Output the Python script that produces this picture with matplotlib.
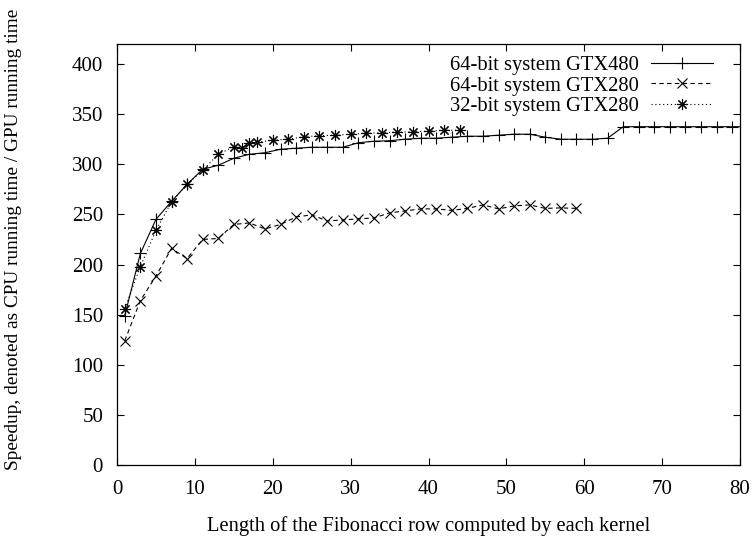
import matplotlib
matplotlib.use("Agg")
import matplotlib.pyplot as plt

# Speedup measurements per kernel row length
x_gtx480_64 = [1, 3, 5, 7, 9, 11, 13, 15, 17, 19, 21, 23, 25, 27, 29, 31, 33, 35, 37, 39,
               41, 43, 45, 47, 49, 51, 53, 55, 57, 59, 61, 63, 65, 67, 69, 71, 73, 75, 77, 79, 81]
y_gtx480_64 = [149, 211, 245, 263, 280, 295, 299, 306, 310, 311.5, 315, 316, 317, 317, 317,
               321.5, 323, 323.5, 325, 326, 326, 327, 328, 328, 329, 330, 330, 327, 325, 325,
               325, 326, 337.5, 337.5, 337.5, 337.5, 337.5, 337.5, 337.5, 337.5, 337.5]

x_gtx280_64 = [1, 3, 5, 7, 9, 11, 13, 15, 17, 19, 21, 23, 25, 27, 29, 31, 33, 35, 37, 39,
               41, 43, 45, 47, 49, 51, 53, 55, 57, 59]
y_gtx280_64 = [124, 164, 188.5, 216, 206, 225, 226, 240, 241.5, 235.5, 240, 247.5, 249.5,
               243.5, 244.5, 245.5, 246.5, 251.5, 253.5, 255.5, 255.5, 254, 256, 259.5,
               255.5, 258.5, 259.5, 256, 256.5, 256]

x_gtx280_32 = [1, 3, 5, 7, 9, 11, 13, 15, 16, 17, 18, 20, 22, 24, 26, 28, 30, 32, 34, 36,
               38, 40, 42, 44]
y_gtx280_32 = [156, 198, 234, 262.5, 280, 294, 310, 317.5, 316.5, 321, 322, 324, 325, 327.5,
               328.5, 329, 330, 331, 331.5, 332, 332.5, 333, 334, 334]

labels = ["64-bit system GTX480", "64-bit system GTX280", "32-bit system GTX280"]
x_ticks = list(range(0, 81, 10))
y_ticks = list(range(0, 401, 50))

plt.rcParams["font.family"] = ["Liberation Serif", "DejaVu Serif"]
plt.rcParams["font.size"] = 14.8

fig = plt.figure(figsize=(7.56, 5.36), dpi=100)
ax = fig.add_axes([117 / 756, 1 - 465 / 536, (740 - 117) / 756, (465 - 44) / 536])

lw = 0.8
ax.plot(x_gtx480_64, y_gtx480_64, color="black", lw=lw, linestyle="-",
        marker="+", markersize=8, markeredgewidth=0.8, label=labels[0])
ax.plot(x_gtx280_64, y_gtx280_64, color="black", lw=lw, linestyle=(0, (4, 3)),
        marker="x", markersize=6.5, markeredgewidth=0.8, label=labels[1])
ax.plot(x_gtx280_32, y_gtx280_32, color="black", lw=lw, linestyle=(0, (1, 2.5)),
        marker=(8, 2, 0), markersize=8, markeredgewidth=0.8, label=labels[2])

ax.set_xlim(0, 80)
ax.set_ylim(0, 420)
ax.set_xticks(x_ticks)
ax.set_yticks(y_ticks)
ax.tick_params(direction="in", top=True, right=True, length=5, width=0.8, labelsize=15)
ax.tick_params(axis="y", pad=10)
ax.tick_params(axis="x", pad=11)
for s in ax.spines.values():
    s.set_linewidth(0.9)

ax.set_xlabel("Length of the Fibonacci row computed by each kernel", labelpad=12)
ax.set_ylabel("Speedup, denoted as CPU running time / GPU running time", fontsize=13.9)
ax.yaxis.set_label_coords(-0.1525, 0.537)

leg = ax.legend(loc="upper right", frameon=False, markerfirst=False,
                handlelength=3.0, handletextpad=0.6, labelspacing=0.05,
                borderaxespad=0.3, bbox_to_anchor=(0.979, 1.006))

fig.savefig("out.png", dpi=100)
